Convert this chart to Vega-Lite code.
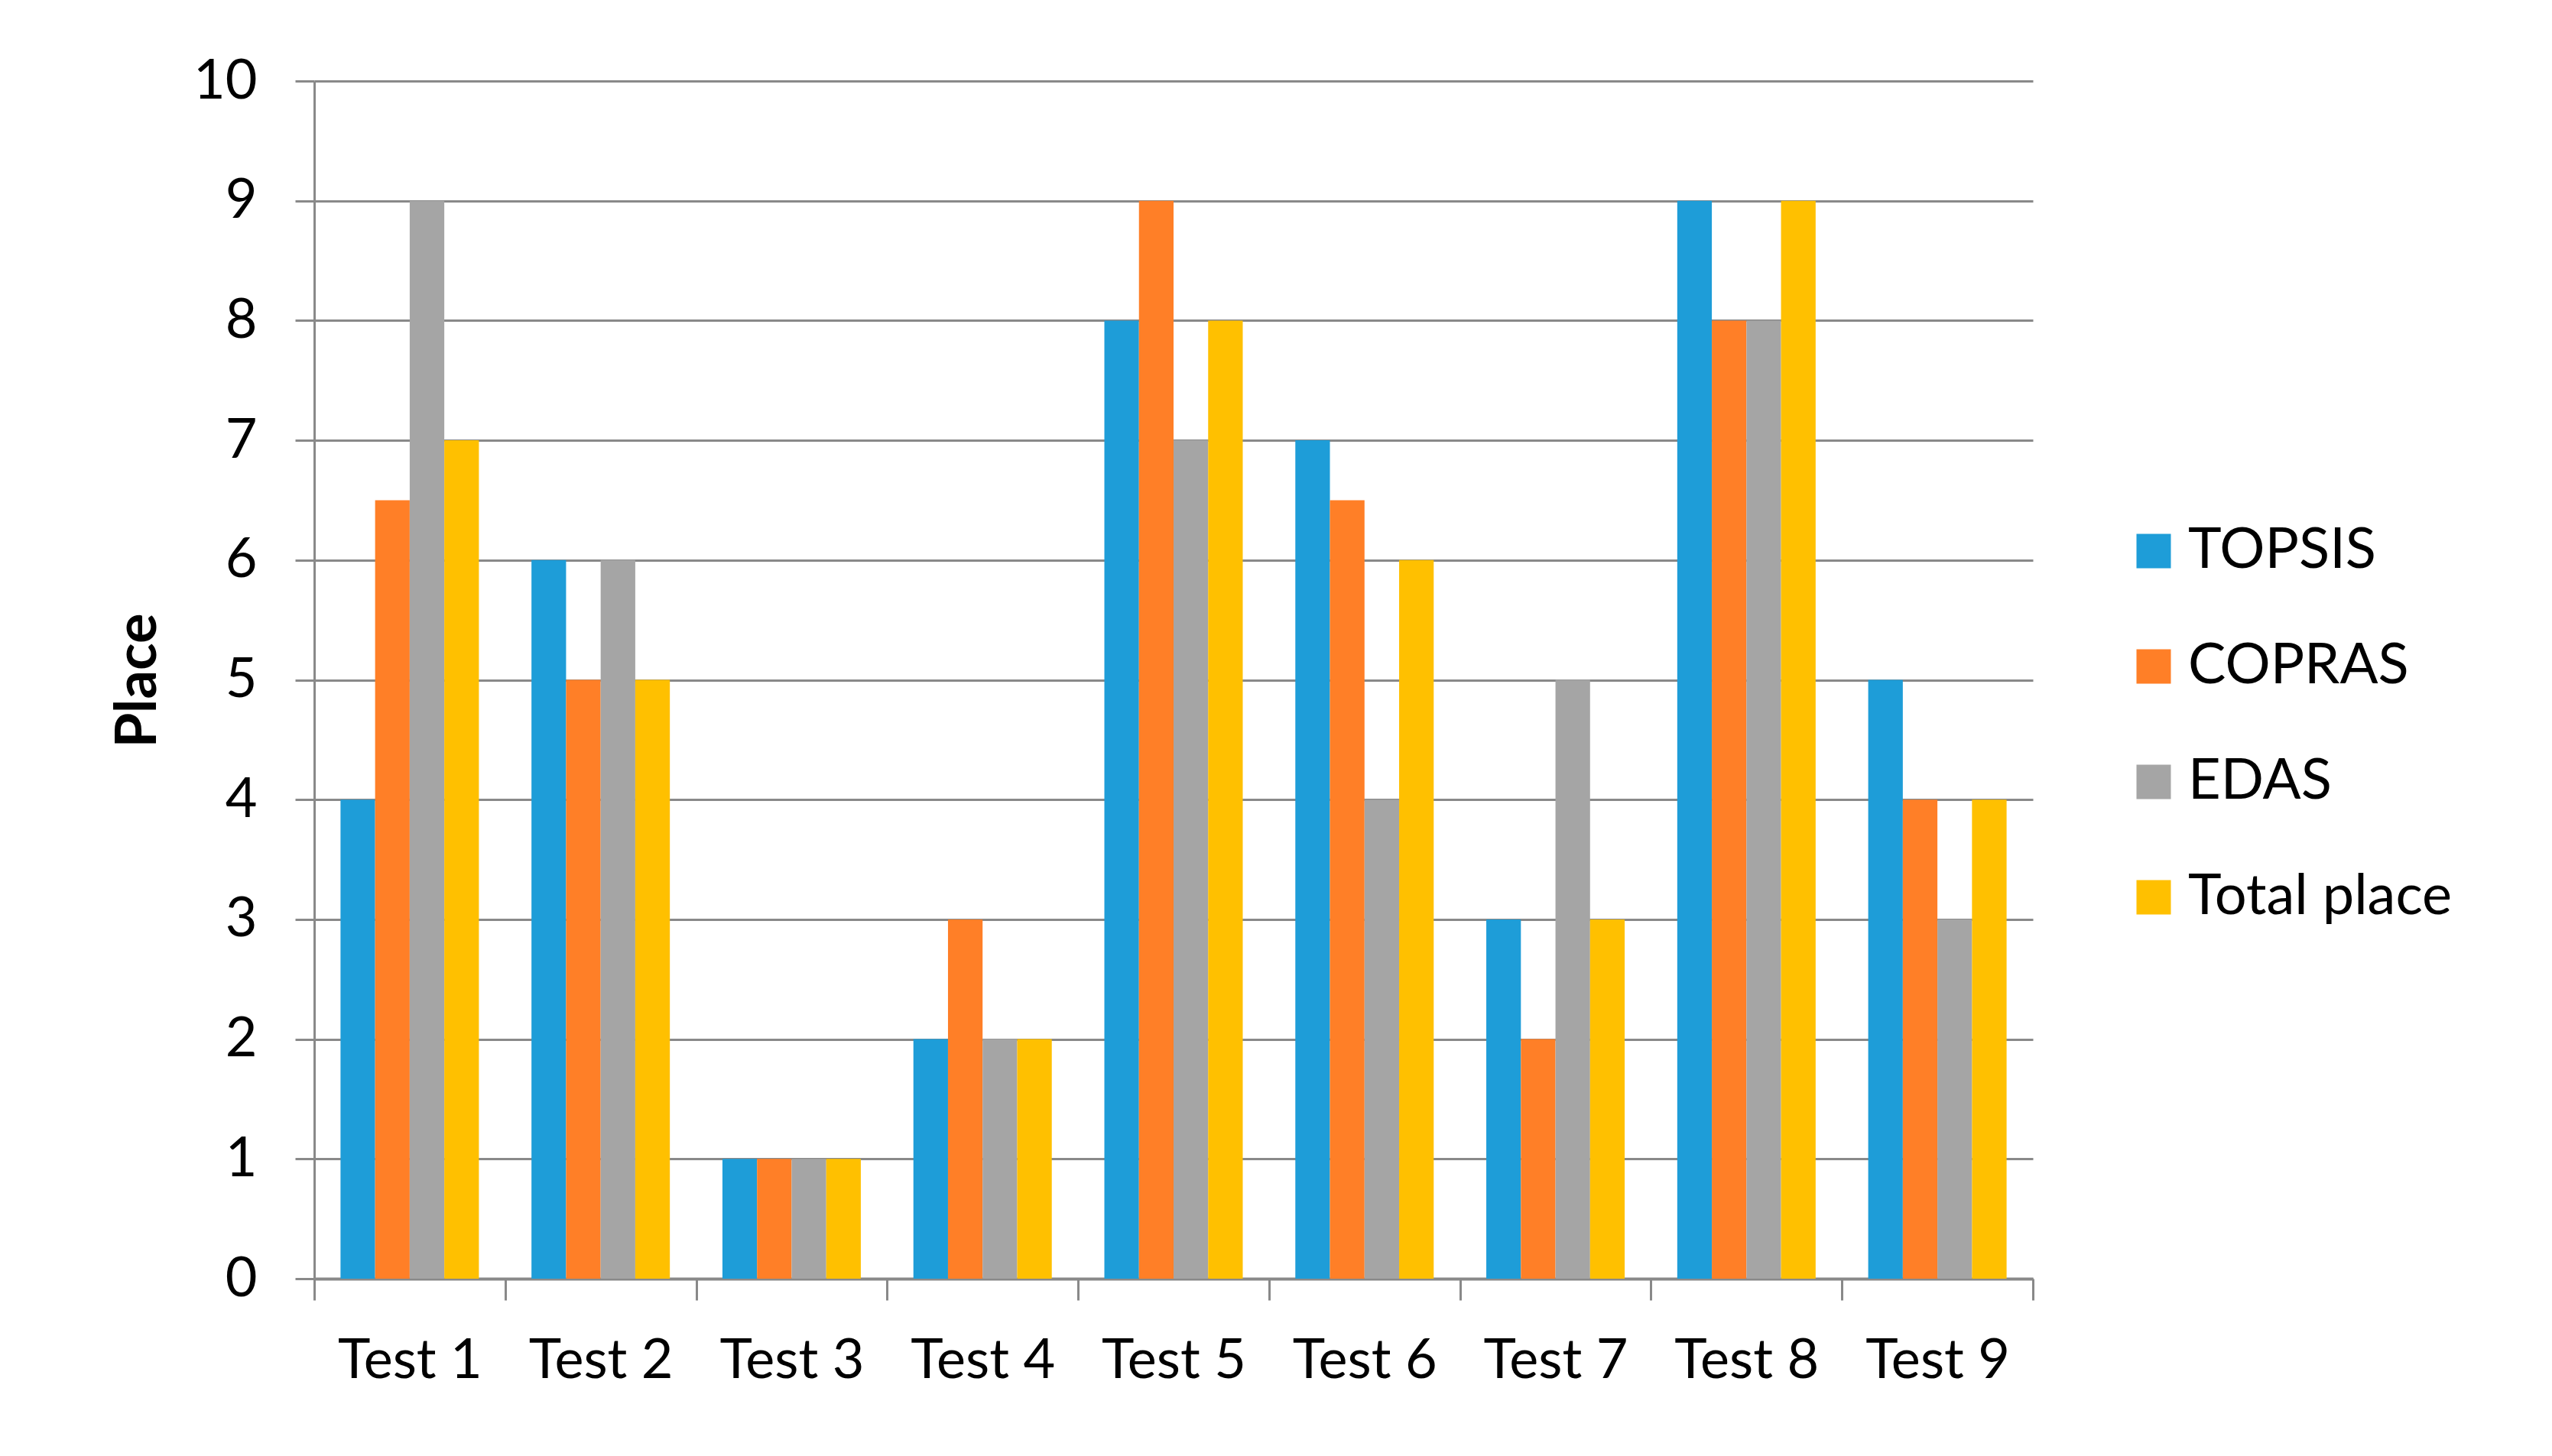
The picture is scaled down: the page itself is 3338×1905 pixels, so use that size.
{
  "$schema": "https://vega.github.io/schema/vega-lite/v6.json",
  "width": 2248,
  "height": 1567,
  "autosize": {"type": "none"},
  "padding": {"left": 411, "top": 106, "right": 679, "bottom": 232},
  "background": "white",
  "config": {
    "font": "Lato",
    "view": {"stroke": null},
    "axis": {"labelFont": "Lato", "titleFont": "Lato", "labelColor": "black", "titleColor": "black"}
  },
  "data": {
    "values": [
      {"test": "Test 1", "method": "TOPSIS", "place": 4},
      {"test": "Test 1", "method": "COPRAS", "place": 6.5},
      {"test": "Test 1", "method": "EDAS", "place": 9},
      {"test": "Test 1", "method": "Total place", "place": 7},
      {"test": "Test 2", "method": "TOPSIS", "place": 6},
      {"test": "Test 2", "method": "COPRAS", "place": 5},
      {"test": "Test 2", "method": "EDAS", "place": 6},
      {"test": "Test 2", "method": "Total place", "place": 5},
      {"test": "Test 3", "method": "TOPSIS", "place": 1},
      {"test": "Test 3", "method": "COPRAS", "place": 1},
      {"test": "Test 3", "method": "EDAS", "place": 1},
      {"test": "Test 3", "method": "Total place", "place": 1},
      {"test": "Test 4", "method": "TOPSIS", "place": 2},
      {"test": "Test 4", "method": "COPRAS", "place": 3},
      {"test": "Test 4", "method": "EDAS", "place": 2},
      {"test": "Test 4", "method": "Total place", "place": 2},
      {"test": "Test 5", "method": "TOPSIS", "place": 8},
      {"test": "Test 5", "method": "COPRAS", "place": 9},
      {"test": "Test 5", "method": "EDAS", "place": 7},
      {"test": "Test 5", "method": "Total place", "place": 8},
      {"test": "Test 6", "method": "TOPSIS", "place": 7},
      {"test": "Test 6", "method": "COPRAS", "place": 6.5},
      {"test": "Test 6", "method": "EDAS", "place": 4},
      {"test": "Test 6", "method": "Total place", "place": 6},
      {"test": "Test 7", "method": "TOPSIS", "place": 3},
      {"test": "Test 7", "method": "COPRAS", "place": 2},
      {"test": "Test 7", "method": "EDAS", "place": 5},
      {"test": "Test 7", "method": "Total place", "place": 3},
      {"test": "Test 8", "method": "TOPSIS", "place": 9},
      {"test": "Test 8", "method": "COPRAS", "place": 8},
      {"test": "Test 8", "method": "EDAS", "place": 8},
      {"test": "Test 8", "method": "Total place", "place": 9},
      {"test": "Test 9", "method": "TOPSIS", "place": 5},
      {"test": "Test 9", "method": "COPRAS", "place": 4},
      {"test": "Test 9", "method": "EDAS", "place": 3},
      {"test": "Test 9", "method": "Total place", "place": 4}
    ]
  },
  "mark": {"type": "bar"},
  "encoding": {
    "x": {
      "field": "test",
      "type": "nominal",
      "sort": null,
      "scale": {"paddingInner": 0, "paddingOuter": 0},
      "axis": {
        "title": null,
        "labelAngle": 0,
        "labelFontSize": 72,
        "labelPadding": 44,
        "labelBaseline": "top",
        "labelLimit": 0,
        "tickBand": "extent",
        "tickSize": 28,
        "tickWidth": 3,
        "tickColor": "#898989",
        "domainColor": "#898989",
        "domainWidth": 4,
        "grid": false
      }
    },
    "y": {
      "field": "place",
      "type": "quantitative",
      "scale": {"domain": [0, 10], "nice": false},
      "axis": {
        "title": "Place",
        "titleFontSize": 74,
        "titleFontWeight": "bold",
        "titleX": -230,
        "titleY": 784,
        "titleAlign": "center",
        "titleBaseline": "middle",
        "titleAngle": -90,
        "values": [0, 1, 2, 3, 4, 5, 6, 7, 8, 9, 10],
        "labelFontSize": 72,
        "labelPadding": 50,
        "tickSize": 25,
        "tickWidth": 3,
        "tickColor": "#898989",
        "domainColor": "#898989",
        "domainWidth": 3,
        "grid": true,
        "gridColor": "#898989",
        "gridWidth": 3
      }
    },
    "xOffset": {"field": "method", "type": "nominal", "sort": ["TOPSIS", "COPRAS", "EDAS", "Total place"], "scale": {"paddingInner": 0, "paddingOuter": 0.76}},
    "color": {
      "field": "method",
      "type": "nominal",
      "sort": ["TOPSIS", "COPRAS", "EDAS", "Total place"],
      "scale": {"domain": ["TOPSIS", "COPRAS", "EDAS", "Total place"], "range": ["#1E9DD8", "#FF7F27", "#A5A5A5", "#FFC000"]},
      "legend": {
        "title": null,
        "orient": "none",
        "legendX": 2369,
        "legendY": 578,
        "symbolType": "square",
        "symbolSize": 2025,
        "symbolStrokeWidth": 0,
        "symbolOpacity": 1,
        "labelFontSize": 74,
        "labelFont": "Lato",
        "labelColor": "black",
        "labelOffset": 8,
        "labelLimit": 0,
        "rowPadding": 77
      }
    }
  }
}
